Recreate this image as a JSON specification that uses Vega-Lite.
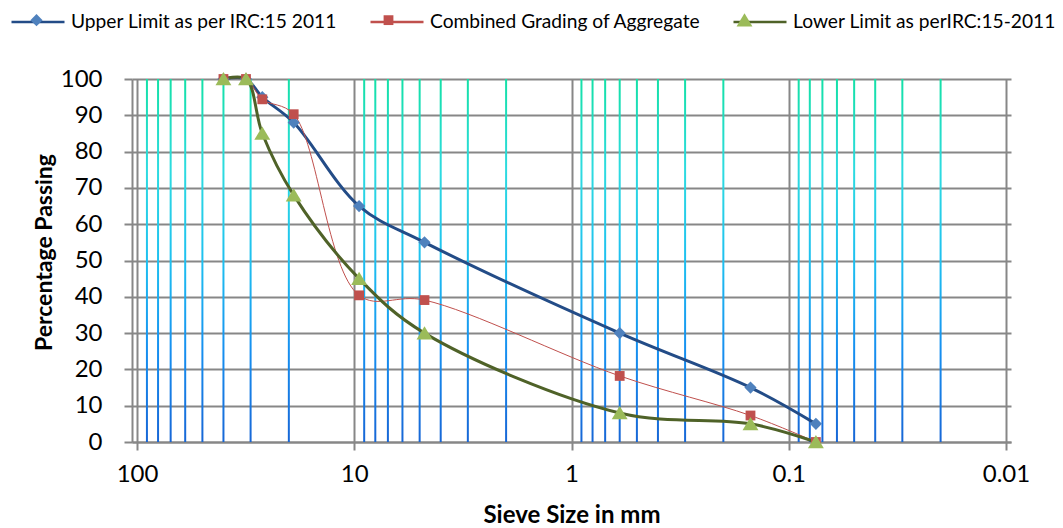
{
  "$schema": "https://vega.github.io/schema/vega-lite/v6.json",
  "autosize": {"type": "none"},
  "width": 879,
  "height": 363,
  "padding": {"left": 132, "top": 79, "right": 52, "bottom": 86},
  "background": "white",
  "config": {
    "font": "Lato",
    "view": {"stroke": null},
    "axis": {
      "gridColor": "#878787", "gridWidth": 2, "gridOpacity": 1,
      "domainColor": "#878787", "domainWidth": 2,
      "tickColor": "#878787", "tickWidth": 2, "tickSize": 8,
      "labelFont": "Lato", "labelFontSize": 24, "labelColor": "#000000", "labelOverlap": false,
      "titleFont": "Lato", "titleFontSize": 24, "titleFontWeight": "bold", "titleColor": "#000000"
    },
    "axisY": {"labelOverlap": false, "labelSeparation": 0},
    "legend": {
      "labelFont": "Lato", "labelFontSize": 19.2, "labelColor": "#000000",
      "padding": 0, "labelOffset": 5, "columnPadding": 27, "labelLimit": 400
    }
  },
  "datasets": {
    "grading": [
      {"size": 40, "pct": 100, "series": "Upper Limit as per IRC:15 2011"},
      {"size": 31.5, "pct": 100, "series": "Upper Limit as per IRC:15 2011"},
      {"size": 26.5, "pct": 95, "series": "Upper Limit as per IRC:15 2011"},
      {"size": 19, "pct": 88, "series": "Upper Limit as per IRC:15 2011"},
      {"size": 9.5, "pct": 65, "series": "Upper Limit as per IRC:15 2011"},
      {"size": 4.75, "pct": 55, "series": "Upper Limit as per IRC:15 2011"},
      {"size": 0.6, "pct": 30, "series": "Upper Limit as per IRC:15 2011"},
      {"size": 0.15, "pct": 15, "series": "Upper Limit as per IRC:15 2011"},
      {"size": 0.075, "pct": 5, "series": "Upper Limit as per IRC:15 2011"},
      {"size": 40, "pct": 100, "series": "Combined Grading of Aggregate"},
      {"size": 31.5, "pct": 100, "series": "Combined Grading of Aggregate"},
      {"size": 26.5, "pct": 94.4, "series": "Combined Grading of Aggregate"},
      {"size": 19, "pct": 90.3, "series": "Combined Grading of Aggregate"},
      {"size": 9.5, "pct": 40.4, "series": "Combined Grading of Aggregate"},
      {"size": 4.75, "pct": 39.1, "series": "Combined Grading of Aggregate"},
      {"size": 0.6, "pct": 18.2, "series": "Combined Grading of Aggregate"},
      {"size": 0.15, "pct": 7.3, "series": "Combined Grading of Aggregate"},
      {"size": 0.075, "pct": 0, "series": "Combined Grading of Aggregate"},
      {"size": 40, "pct": 100, "series": "Lower Limit as perIRC:15-2011"},
      {"size": 31.5, "pct": 100, "series": "Lower Limit as perIRC:15-2011"},
      {"size": 26.5, "pct": 85, "series": "Lower Limit as perIRC:15-2011"},
      {"size": 19, "pct": 68, "series": "Lower Limit as perIRC:15-2011"},
      {"size": 9.5, "pct": 45, "series": "Lower Limit as perIRC:15-2011"},
      {"size": 4.75, "pct": 30, "series": "Lower Limit as perIRC:15-2011"},
      {"size": 0.6, "pct": 8, "series": "Lower Limit as perIRC:15-2011"},
      {"size": 0.15, "pct": 5, "series": "Lower Limit as perIRC:15-2011"},
      {"size": 0.075, "pct": 0, "series": "Lower Limit as perIRC:15-2011"}
    ],
    "minor": [
      {"v": 90}, {"v": 80}, {"v": 70}, {"v": 60}, {"v": 50}, {"v": 40}, {"v": 30}, {"v": 20},
      {"v": 9}, {"v": 8}, {"v": 7}, {"v": 6}, {"v": 5}, {"v": 4}, {"v": 3}, {"v": 2},
      {"v": 0.9}, {"v": 0.8}, {"v": 0.7}, {"v": 0.6}, {"v": 0.5}, {"v": 0.4}, {"v": 0.3}, {"v": 0.2},
      {"v": 0.09}, {"v": 0.08}, {"v": 0.07}, {"v": 0.06}, {"v": 0.05}, {"v": 0.04}, {"v": 0.03}, {"v": 0.02}
    ]
  },
  "layer": [
    {
      "data": {"name": "minor"},
      "mark": {
        "type": "bar", "width": 2,
        "fill": {
          "gradient": "linear", "x1": 0, "y1": 0, "x2": 0, "y2": 1,
          "stops": [
            {"offset": 0, "color": "#14e0a6"},
            {"offset": 0.25, "color": "#2ddbe0"},
            {"offset": 0.5, "color": "#1ec0f0"},
            {"offset": 0.75, "color": "#168ff0"},
            {"offset": 1, "color": "#1766d6"}
          ]
        }
      },
      "encoding": {
        "x": {
          "field": "v", "type": "quantitative",
          "scale": {"type": "log", "domain": [0.01, 100], "reverse": true, "nice": false},
          "axis": {
            "values": [100, 10, 1, 0.1, 0.01], "format": "~g", "grid": true, "labelOverlap": false,
            "labelPadding": 12, "title": "Sieve Size in mm", "titlePadding": 17
          }
        },
        "y": {
          "datum": 100, "type": "quantitative",
          "scale": {"domain": [0, 100], "nice": false},
          "axis": {
            "values": [0, 10, 20, 30, 40, 50, 60, 70, 80, 90, 100], "grid": true,
            "labelOverlap": false, "labelSeparation": 0,
            "labelPadding": 22, "title": "Percentage Passing", "titlePadding": 4, "titleY": 173,
            "titleFontSize": 23
          }
        },
        "y2": {"datum": 0}
      }
    },
    {
      "data": {"name": "grading"},
      "mark": {"type": "line", "interpolate": "catmull-rom"},
      "encoding": {
        "x": {"field": "size", "type": "quantitative"},
        "y": {
          "field": "pct", "type": "quantitative",
          "axis": {
            "values": [0, 10, 20, 30, 40, 50, 60, 70, 80, 90, 100], "grid": true,
            "labelOverlap": false, "labelSeparation": 0,
            "labelPadding": 22, "title": "Percentage Passing", "titlePadding": 4, "titleY": 173,
            "titleFontSize": 23
          }
        },
        "stroke": {
          "field": "series", "type": "nominal",
          "sort": ["Upper Limit as per IRC:15 2011", "Combined Grading of Aggregate", "Lower Limit as perIRC:15-2011"],
          "scale": {"range": ["#234c87", "#c0504d", "#4f6228"]},
          "legend": {
            "title": null, "orient": "none", "direction": "horizontal",
            "legendX": -122, "legendY": -85.5,
            "symbolType": "M-1,0H1", "symbolSize": 2809, "symbolStrokeWidth": 2.5
          }
        },
        "strokeWidth": {"condition": {"test": "datum.series === 'Combined Grading of Aggregate'", "value": 1}, "value": 3}
      }
    },
    {
      "data": {"name": "grading"},
      "mark": {"type": "point", "filled": true, "opacity": 1, "size": 2809, "strokeWidth": 0},
      "encoding": {
        "x": {"field": "size", "type": "quantitative"},
        "y": {
          "field": "pct", "type": "quantitative",
          "axis": {
            "values": [0, 10, 20, 30, 40, 50, 60, 70, 80, 90, 100], "grid": true,
            "labelOverlap": false, "labelSeparation": 0,
            "labelPadding": 22, "title": "Percentage Passing", "titlePadding": 4, "titleY": 173,
            "titleFontSize": 23
          }
        },
        "fill": {
          "field": "series", "type": "nominal",
          "scale": {
            "domain": ["Upper Limit as per IRC:15 2011", "Combined Grading of Aggregate", "Lower Limit as perIRC:15-2011"],
            "range": ["#4f81bd", "#c0504d", "#9bbb59"]
          },
          "legend": {
            "title": null, "orient": "none", "direction": "horizontal",
            "legendX": -122, "legendY": -85.5, "symbolSize": 2809, "labelOpacity": 0, "symbolStrokeWidth": 0
          }
        },
        "shape": {
          "field": "series", "type": "nominal",
          "scale": {
            "domain": ["Upper Limit as per IRC:15 2011", "Combined Grading of Aggregate", "Lower Limit as perIRC:15-2011"],
            "range": [
              "M-0.23,0L0,-0.23L0.23,0L0,0.23Z",
              "M-0.185,-0.185H0.185V0.185H-0.185Z",
              "M0,-0.26L0.3,0.24L-0.3,0.24Z"
            ]
          },
          "legend": {
            "title": null, "orient": "none", "direction": "horizontal",
            "legendX": -122, "legendY": -85.5, "symbolSize": 2809, "labelOpacity": 0, "symbolStrokeWidth": 0
          }
        }
      }
    }
  ]
}
